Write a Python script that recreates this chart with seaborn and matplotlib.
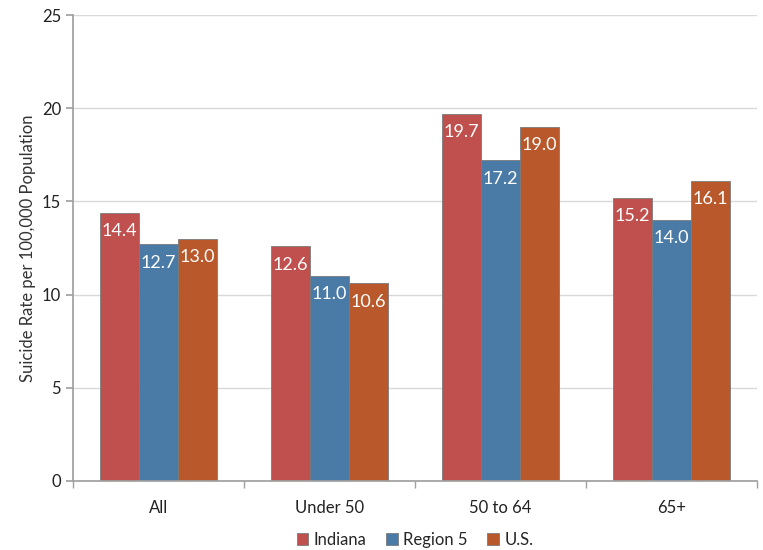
import pandas as pd
import seaborn as sns
import matplotlib.pyplot as plt

# --- data ---
groups = ["All", "Under 50", "50 to 64", "65+"]
indiana = [14.4, 12.6, 19.7, 15.2]
region5 = [12.7, 11.0, 17.2, 14.0]
us = [13.0, 10.6, 19.0, 16.1]
series = ["Indiana", "Region 5", "U.S."]
colors = ["#C0504D", "#4A7BA6", "#B9592B"]

df = pd.DataFrame({
    "Group": groups * 3,
    "Series": [s for s in series for _ in groups],
    "Rate": indiana + region5 + us,
})

sns.set_theme(style="white")
plt.rcParams["font.family"] = ["Lato", "DejaVu Sans"]

fig = plt.figure(figsize=(7.63, 5.5), dpi=100)
ax = fig.add_axes([0.0957, 0.1255, 0.8963, 0.8472])

sns.barplot(data=df, x="Group", y="Rate", hue="Series", order=groups,
            hue_order=series, palette=colors, width=0.68, saturation=1,
            edgecolor="#7a7a7a", linewidth=0.6, ax=ax)

for cont in ax.containers:
    ax.bar_label(cont, fmt="%.1f", padding=-19, color="white", fontsize=13)

ax.set_ylim(0, 25)
ax.set_yticks([0, 5, 10, 15, 20, 25])
ax.set_xlim(-0.5, 3.5)
ax.yaxis.grid(True, color="#d9d9d9", linewidth=1)
ax.set_axisbelow(True)
for side in ["top", "right"]:
    ax.spines[side].set_visible(False)
ax.spines["left"].set_color("#a0a0a0")
ax.spines["bottom"].set_color("#a0a0a0")
ax.tick_params(axis="y", which="both", left=True, length=5, color="#a0a0a0",
               labelsize=12, labelcolor="#222222")
ax.tick_params(axis="x", bottom=False, labelsize=12, labelcolor="#222222", pad=8)
# group separator ticks
ax.set_xticks([-0.5, 0.5, 1.5, 2.5, 3.5], minor=True)
ax.tick_params(axis="x", which="minor", bottom=True, length=5, color="#a0a0a0")

ax.set_xlabel("")
ax.set_ylabel("Suicide Rate per 100,000 Population", fontsize=12, color="#333333")

handles, labels = ax.get_legend_handles_labels()
ax.legend(handles, labels, loc="center", bbox_to_anchor=(0.5, -0.127),
          ncol=3, frameon=False, fontsize=12, handlelength=0.7,
          handleheight=0.7, handletextpad=0.3, columnspacing=1.2)

fig.savefig("out.png", dpi=100)
